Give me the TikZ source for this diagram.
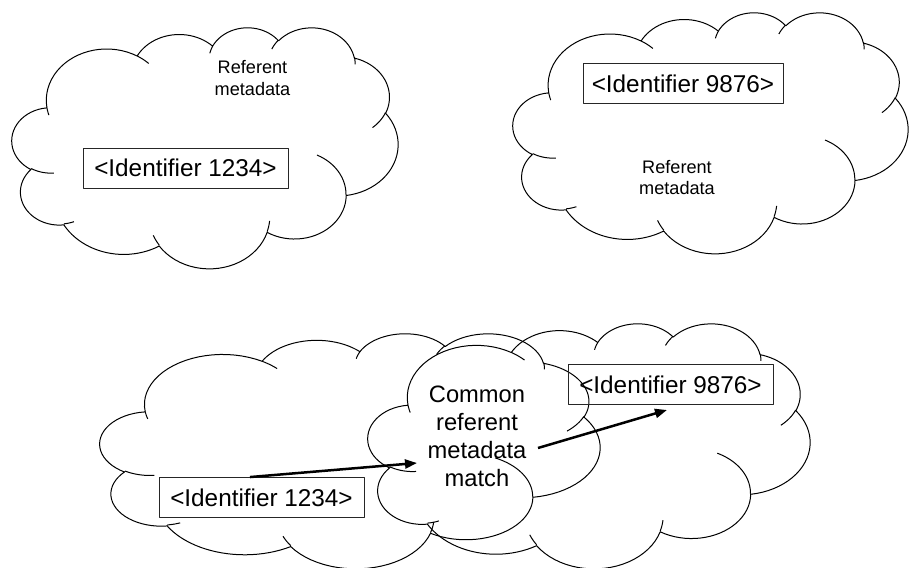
\documentclass[tikz,border=0pt]{standalone}
\usepackage{fontspec}
\setmainfont{Liberation Sans}
\usetikzlibrary{arrows.meta}

% ---------------------------------------------------------------
% Cloud outline in unit coordinates (0..1 in x and y, y downwards).
% Each lobe is an elliptic arc given by its radii, the (visual)
% start angle and the sweep; the arc is flattened into line pieces.
% ---------------------------------------------------------------
\newcount\cldK
\newcommand\cldN{24}
\newcommand\cldMove[2]{%
  \xdef\cldX{#1}\xdef\cldY{#2}%
  \pgfpathmoveto{\pgfpointxy{#1}{#2}}}
% parametric angle of the point seen at visual angle #4 on an ellipse #2 x #3
\newcommand\cldParam[4]{%
  \pgfmathsetmacro#1{(#4)+mod(atan2((#2)*sin(#4),(#3)*cos(#4))-(#4)+540,360)-180}}
\newcommand\cldStep{%
  \advance\cldK by 1
  \pgfmathsetmacro\cldT{\cldPa+(\cldPb-(\cldPa))*\the\cldK/\cldN}%
  \pgfmathsetmacro\cldU{\cldCx+\cldR*cos(\cldT)}%
  \pgfmathsetmacro\cldV{\cldCy+\cldS*sin(\cldT)}%
  \pgfpathlineto{\pgfpointxy{\cldU}{\cldV}}%
  \ifnum\cldK<\cldN\relax\expandafter\cldStep\fi}
\newcommand\cldArc[4]{%
  \cldParam\cldPa{#1}{#2}{#3}%
  \cldParam\cldPb{#1}{#2}{#3+#4}%
  \pgfmathsetmacro\cldCx{\cldX-(#1)*cos(\cldPa)}%
  \pgfmathsetmacro\cldCy{\cldY-(#2)*sin(\cldPa)}%
  \def\cldR{#1}\def\cldS{#2}%
  \cldK=0 \cldStep
  \xdef\cldX{\cldU}\xdef\cldY{\cldV}}

% cloud with its box at left #1, top #2, width #3, height #4
\newcommand\cloudat[4]{%
  \begin{scope}[shift={(#1,#2)}, x=#3bp, y=-#4bp]
    % outline
    \cldMove{0.090278}{0.332639}%
    \cldArc{0.156319}{0.212731}{-190.48748}{123.78053}%
    \cldArc{0.123449}{0.168218}{-144.10238}{89.94523}%
    \cldArc{0.101042}{0.137616}{-145.80792}{99.72302}%
    \cldArc{0.112431}{0.152662}{-130.98607}{117.24173}%
    \cldArc{0.123449}{0.168356}{-78.70888}{109.02692}%
    \cldArc{0.156829}{0.213426}{-46.26725}{130.26900}%
    \cldArc{0.133912}{0.182106}{0.62502}{114.03333}%
    \cldArc{0.156296}{0.213310}{22.45160}{115.17255}%
    \cldArc{0.178704}{0.244051}{66.24263}{75.71102}%
    \cldArc{0.100926}{0.136991}{-274.94208}{146.73557}%
    \cldArc{0.100579}{0.137616}{-246.82850}{152.51885}%
    \pgfpathclose
    % inner creases between the lobes
    \cldMove{0.108634}{0.605949}\cldArc{0.100579}{0.137616}{86.74200}{26.42950}%
    \cldMove{0.160370}{0.807847}\cldArc{0.100926}{0.136991}{73.61047}{11.44747}%
    \cldMove{0.381435}{0.904861}\cldArc{0.156296}{0.213310}{137.62415}{14.08110}%
    \cldMove{0.667292}{0.804421}\cldArc{0.156296}{0.213310}{6.45327}{15.99835}%
    \cldMove{0.790023}{0.531343}\cldArc{0.133912}{0.182106}{-70.29235}{70.91737}%
    \cldMove{0.967546}{0.355417}\cldArc{0.123449}{0.168356}{30.31803}{27.75150}%
    \cldMove{0.887130}{0.125602}\cldArc{0.112431}{0.152662}{-13.74433}{14.85890}%
    \cldMove{0.673102}{0.091481}\cldArc{0.112431}{0.152662}{-149.18145}{18.19537}%
    \cldMove{0.512523}{0.109259}\cldArc{0.101042}{0.137616}{-163.49427}{17.68635}%
    \cldMove{0.324074}{0.120185}\cldArc{0.156319}{0.212731}{-66.70695}{12.31935}%
    \cldMove{0.095532}{0.365486}\cldArc{0.156319}{0.212731}{157.65435}{11.85817}%
    \pgfusepath{draw}
  \end{scope}}

\tikzset{
  idbox/.style={draw=black!85, line width=0.9bp, rectangle, inner sep=0pt,
    minimum height=40bp, font=\fontsize{24.4}{28}\selectfont},
  smalltext/.style={align=center, inner sep=0pt,
    font=\fontsize{18.2}{22}\selectfont},
  bigtext/.style={align=center, inner sep=0pt,
    font=\fontsize{23.8}{28.2}\selectfont},
  link/.style={line width=2.5bp, -{Triangle[length=12bp,width=9bp]}},
}

\begin{document}
\begin{tikzpicture}[x=1bp, y=-1bp, line join=round]
  \useasboundingbox (0,0) rectangle (909,568);

  % clouds: two single ones on top, two overlapping ones below
  \begin{scope}[line width=1bp]
    \cloudat{12}{27}{386}{241}
    \cloudat{513}{12}{395}{241}
    \cloudat{100}{333}{500}{235}
    \cloudat{368}{323}{442}{245}
  \end{scope}

  % top left
  \node[idbox, minimum width=205bp] (id1) at (185.5,168) {<Identifier 1234>};
  \node[smalltext] (meta1) at (252.5,78) {Referent\\metadata};

  % top right
  \node[idbox, minimum width=200bp] (id2) at (683,83.5) {<Identifier 9876>};
  \node[smalltext] (meta2) at (677,177.5) {Referent\\metadata};

  % merged clouds
  \node[idbox, minimum width=205bp] (id3) at (261.5,497.5) {<Identifier 1234>};
  \node[idbox, minimum width=205bp] (id4) at (670.5,384.5) {<Identifier 9876>};
  \node[bigtext] (common) at (477,436) {Common\\referent\\metadata\\match};

  \coordinate (tipA) at (417,463);
  \coordinate (tailB) at (538,448);
  \coordinate (tipB) at (667,410);
  \draw[link] ([xshift=-11.5bp]id3.north) -- (tipA);
  \draw[link] (tailB) -- (tipB);
\end{tikzpicture}
\end{document}
